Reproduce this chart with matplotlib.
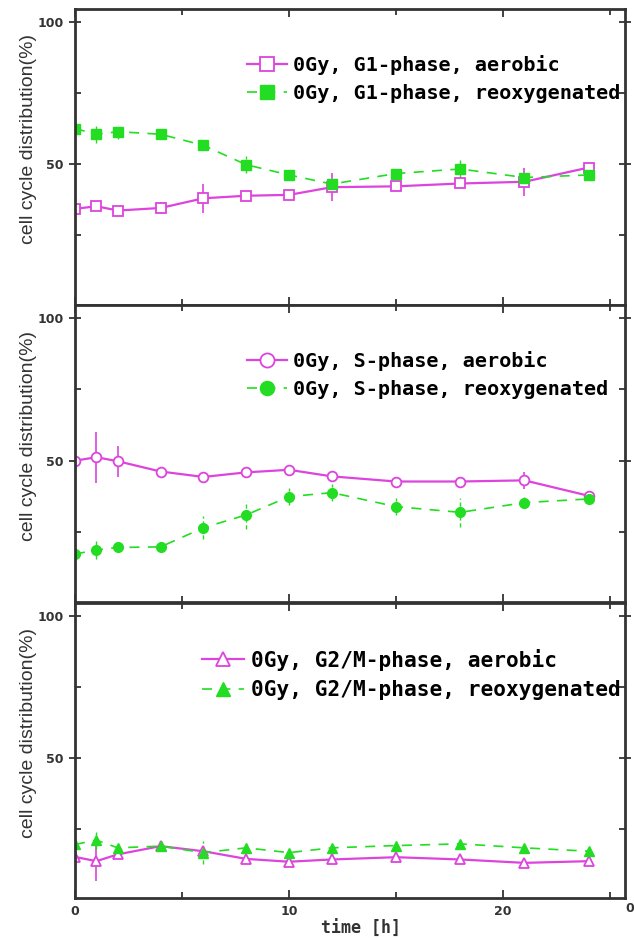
import numpy as np
import matplotlib.pyplot as plt
from matplotlib.ticker import MultipleLocator

# time points [h]
t = [0, 1, 2, 4, 6, 8, 10, 12, 15, 18, 21, 24]

# G1 phase
g1_aer = [34.3, 35.2, 33.7, 34.6, 38.0, 38.9, 39.2, 41.9, 42.2, 43.2, 43.8, 48.8]
g1_aer_err = [1, 1, 1, 2, 5, 1, 1, 5, 1, 1, 5, 1]
g1_reox = [62.5, 60.5, 61.4, 60.5, 56.6, 49.8, 46.2, 43.0, 46.7, 48.3, 45.3, 46.2]
g1_reox_err = [1, 3, 2.5, 1, 1, 3, 1, 1, 1, 3, 1, 1]

# S phase
s_aer = [50.0, 51.2, 49.8, 46.2, 44.3, 45.9, 46.8, 44.5, 42.7, 42.7, 43.1, 37.7]
s_aer_err = [1, 9, 5.5, 1, 1.5, 1.5, 1, 1, 1, 1, 3, 1]
s_reox = [17.3, 18.7, 19.6, 19.8, 26.5, 31.0, 37.4, 38.8, 33.9, 31.9, 35.3, 36.6]
s_reox_err = [1, 3, 1, 1, 4, 5, 3, 3, 3, 5, 2, 1]

# G2/M phase
g2_aer = [15.0, 13.5, 15.9, 18.8, 17.0, 14.3, 13.3, 14.1, 14.9, 14.1, 12.9, 13.5]
g2_aer_err = [1, 7, 1, 1, 1, 1, 1, 1, 1, 1, 1, 1]
g2_reox = [19.4, 20.9, 18.2, 18.8, 16.5, 18.2, 16.5, 18.2, 19.0, 19.6, 18.2, 17.0]
g2_reox_err = [1, 3, 1, 1.5, 4, 1.5, 1, 1, 1, 1, 1, 1]

panels = [
    ("G1", "s", g1_aer, g1_aer_err, g1_reox, g1_reox_err, 0.313, 14.5),
    ("S", "o", s_aer, s_aer_err, s_reox, s_reox_err, 0.313, 14.5),
    ("G2/M", "^", g2_aer, g2_aer_err, g2_reox, g2_reox_err, 0.231, 15.2),
]

mag = "#dd44dd"
grn = "#22dd22"
dark = "#333333"

fig = plt.figure(figsize=(6.34, 9.38), dpi=100)
rects = [
    [0.1183, 0.6748, 0.8675, 0.3156],
    [0.1183, 0.3582, 0.8675, 0.3166],
    [0.1183, 0.0426, 0.8675, 0.3145],
]

for i, (ph, mk, aer, aer_err, reox, reox_err, lx, fs) in enumerate(panels):
    ax = fig.add_axes(rects[i])
    e1 = ax.errorbar(t, aer, yerr=aer_err, color=mag, marker=mk, mfc="white",
                     mec=mag, mew=1.3, ms=7, lw=1.6, elinewidth=1.2, capsize=0)
    e2 = ax.errorbar(t, reox, yerr=reox_err, color=grn, marker=mk, mfc=grn,
                     mec=grn, ms=7, lw=1.2, ls="--", dashes=(6, 5),
                     elinewidth=1.0, capsize=0)
    e2[2][0].set_linestyle((0, (3, 2)))
    ax.legend([e1[0], e2[0]],
              ["0Gy, %s-phase, aerobic" % ph, "0Gy, %s-phase, reoxygenated" % ph],
              loc="upper left", bbox_to_anchor=(lx, 0.845), borderaxespad=0,
              borderpad=0, handlelength=2.0, handletextpad=0.3,
              labelspacing=0.45, frameon=False, markerscale=1.45,
              prop={"family": "DejaVu Sans Mono", "weight": "bold", "size": fs})

    ax.set_xlim(0, 25.7)
    ax.set_ylim(0.5, 104.5)
    ax.xaxis.set_major_locator(MultipleLocator(10))
    ax.xaxis.set_minor_locator(MultipleLocator(5))
    ax.yaxis.set_major_locator(MultipleLocator(50))
    ax.yaxis.set_minor_locator(MultipleLocator(25))
    ax.tick_params(axis="both", which="both", direction="in", top=True,
                   right=True, color=dark, width=1.3)
    ax.tick_params(axis="both", which="major", length=6, labelsize=9,
                   labelcolor=dark)
    ax.tick_params(axis="y", which="major", direction="inout", length=9)
    ax.tick_params(axis="both", which="minor", length=4)
    ax.set_yticks([50, 100])
    ax.set_yticklabels(["50", "100"], fontweight="bold")
    if i < 2:
        ax.tick_params(axis="x", labelbottom=False)
    else:
        ax.set_xticks([0, 10, 20])
        ax.set_xticklabels(["0", "10", "20"], fontweight="bold")
        ax.tick_params(axis="x", pad=5)
        ax.set_xlabel("time [h]", family="DejaVu Sans Mono", fontweight="bold",
                      fontsize=12, color=dark)
        ax.xaxis.set_label_coords(0.52, -0.075)
    for s in ax.spines.values():
        s.set_linewidth(2)
        s.set_color(dark)
    ax.set_ylabel("cell cycle distribution(%)", family="Liberation Sans",
                  fontsize=14, color=dark)
    ax.yaxis.set_label_coords(-0.07, 0.56)

fig.text(0.987, 0.031, "0", fontsize=9, fontweight="bold", color=dark,
         ha="left", va="center")

fig.savefig("out.png", dpi=100)
